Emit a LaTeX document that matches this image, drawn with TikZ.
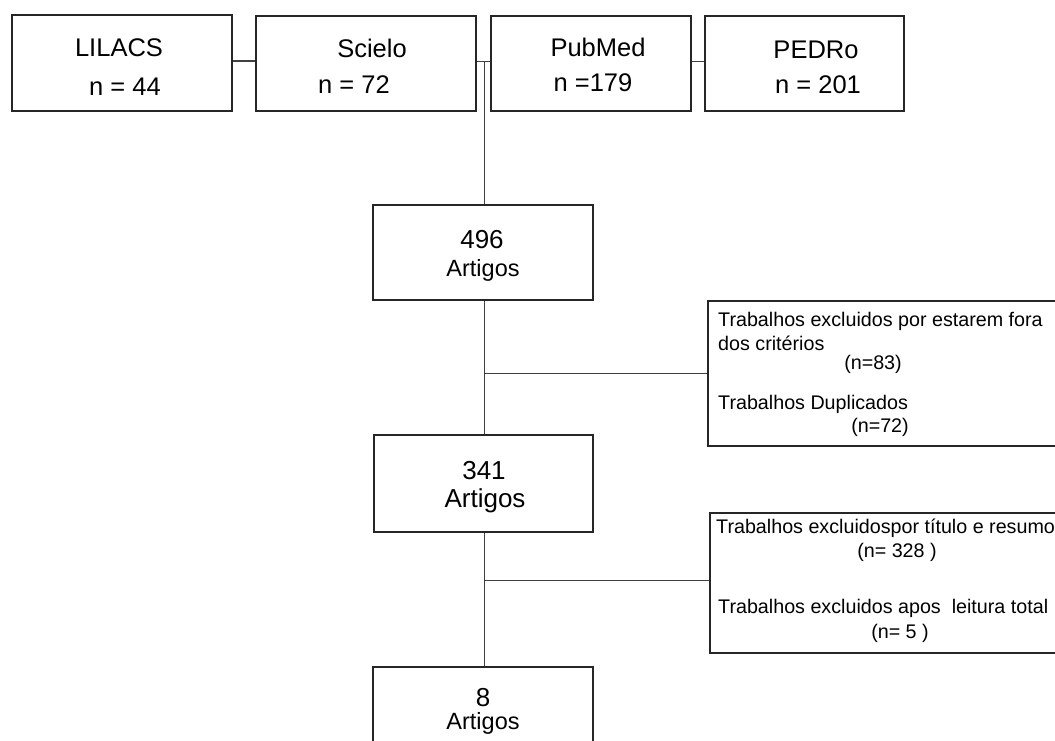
\documentclass[tikz,border=0pt]{standalone}
\usepackage{fontspec}
\setmainfont{Liberation Sans}
\begin{document}
\begin{tikzpicture}[x=1pt,y=-1pt,
  box/.style={draw=black!85,line width=2pt,inner sep=0pt,fill=white},
  conn/.style={draw=black!75,line width=1pt},
  big/.style={font=\fontsize{25.5}{29}\selectfont,inner sep=0pt},
  num/.style={font=\fontsize{26}{30}\selectfont,inner sep=0pt},
  mid/.style={font=\fontsize{23.5}{27}\selectfont,inner sep=0pt},
  small/.style={font=\fontsize{19.7}{23}\selectfont,inner sep=0pt}]
\path[use as bounding box] (0,0) rectangle (1055,740);
\clip (0,0) rectangle (1055,740);
% boxes
\node[box,minimum width=220pt,minimum height=96pt] (lilacs) at (122,63) {};
\node[box,minimum width=220pt,minimum height=95pt] (scielo) at (366,63.5) {};
\node[box,minimum width=200pt,minimum height=95pt] (pubmed) at (591,63.5) {};
\node[box,minimum width=199pt,minimum height=95pt] (pedro) at (804.5,63.5) {};
\node[box,minimum width=220pt,minimum height=95pt] (b496) at (483,252.5) {};
\node[box,minimum width=219pt,minimum height=97pt] (b341) at (483.5,483.5) {};
\node[box,minimum width=220pt,minimum height=98pt] (b8) at (483,716) {};
\node[box,minimum width=362pt,minimum height=145pt] (ex1) at (889,373.5) {};
\node[box,minimum width=360pt,minimum height=140pt] (ex2) at (890,583) {};
% connectors
\coordinate (j0) at (484,61);
\coordinate (j1) at (484,373);
\coordinate (j2) at (484,580);
\draw[conn,line width=1.6pt] (lilacs.east |- 0,61) -- (scielo.west |- 0,61);
\draw[conn] (scielo.east |- j0) -- (pubmed.west |- j0);
\draw[conn] (pubmed.east |- j0) -- (pedro.west |- j0);
\draw[conn] (j0) -- (b496.north -| j0);
\draw[conn] (b496.south -| j0) -- (b341.north -| j0);
\draw[conn] (j1) -- (ex1.west |- j1);
\draw[conn] (b341.south -| j2) -- (b8.north -| j2);
\draw[conn] (j2) -- (ex2.west |- j2);
% texts top row
\node[big] (t1) at (119,48) {LILACS};
\node[big] (t2) at (125,87) {n = 44};
\node[big] (t3) at (372,48) {Scielo};
\node[big] (t4) at (354,85) {n = 72};
\node[big] (t5) at (598,47) {PubMed};
\node[big] (t6) at (593,83) {n =179};
\node[big] (t7) at (816,50) {PEDRo};
\node[big] (t8) at (818,85) {n = 201};
% middle boxes
\node[num] (t9) at (482,240) {496};
\node[mid] (t10) at (483,270) {Artigos};
\node[num] (t11) at (484,471) {341};
\node[num] (t12) at (485,501) {Artigos};
\node[num] (t13) at (483,698) {8};
\node[mid] (t14) at (483,723) {Artigos};
% exclusion 1
\node[small,anchor=west] (e1) at (718,321) {Trabalhos excluidos por estarem fora};
\node[small,anchor=west] (e2) at (718,343) {dos critérios};
\node[small] (e3) at (873,364) {(n=83)};
\node[small,anchor=west] (e4) at (718,404) {Trabalhos Duplicados};
\node[small] (e5) at (880,427) {(n=72)};
% exclusion 2
\node[small,anchor=west] (f1) at (716,528) {Trabalhos excluidospor título e resumo};
\node[small] (f2) at (897,552) {(n= 328 )};
\node[small,anchor=west] (f3) at (718,608) {Trabalhos excluidos apos\ \ leitura total};
\node[small] (f4) at (900,633) {(n= 5 )};
\end{tikzpicture}
\end{document}
